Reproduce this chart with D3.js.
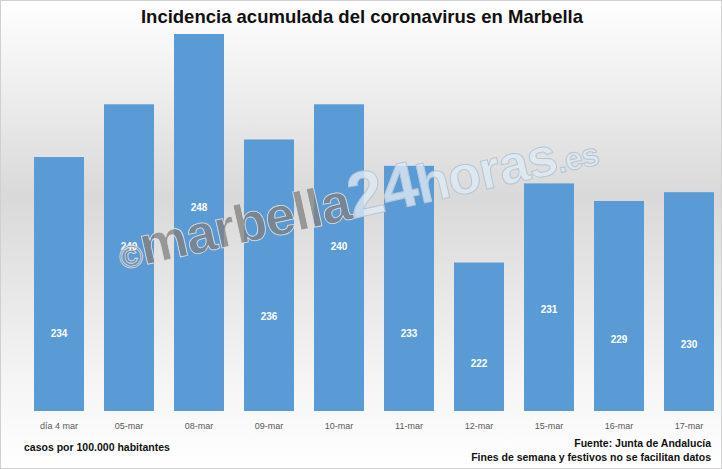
<!DOCTYPE html>
<html><head><meta charset="utf-8">
<script src="https://cdn.jsdelivr.net/npm/d3@7"></script>
<style>body{margin:0;background:#fff}text{font-family:"Liberation Sans",Arial,sans-serif}</style>
</head><body><svg id="chart" width="722" height="469"></svg>
<script>
// data
const dates = ["día 4 mar","05-mar","08-mar","09-mar","10-mar","11-mar","12-mar","15-mar","16-mar","17-mar"];
const values = [234,240,248,236,240,233,222,231,229,230];
// where the value labels sit inside each bar (in data units)
const labelAt = [214,223.9,228.3,215.9,223.9,214,210.6,216.7,213.3,212.7];

const svg = d3.select("#chart");

// background gradient: white top, gray middle, white bottom
const defs = svg.append("defs");
const grad = defs.append("linearGradient").attr("id","bg").attr("x1",0).attr("x2",0).attr("y1",0).attr("y2",1);
grad.append("stop").attr("offset","0%").attr("stop-color","#ffffff");
grad.append("stop").attr("offset","42%").attr("stop-color","#d9d9d9");
grad.append("stop").attr("offset","80%").attr("stop-color","#f4f4f4");
grad.append("stop").attr("offset","100%").attr("stop-color","#ffffff");
svg.append("rect").attr("x",0).attr("y",0).attr("width",722).attr("height",469).attr("fill","url(#bg)");
svg.append("rect").attr("x",0.5).attr("y",0.5).attr("width",721).attr("height",468).attr("fill","none").attr("stroke","#d0d0d0");

const x = d3.scaleBand().domain(dates).range([24,724]).paddingInner(0.286).paddingOuter(0.143);
const y = d3.scaleLinear().domain([205.1,248]).range([411,34]);

svg.append("text").attr("x",362).attr("y",23).attr("text-anchor","middle")
  .attr("font-size",18.5).attr("font-weight","bold").attr("fill","#111")
  .text("Incidencia acumulada del coronavirus en Marbella");

svg.selectAll(".bar").data(values).join("rect").attr("class","bar")
  .attr("x",(d,i)=>x(dates[i])).attr("width",x.bandwidth())
  .attr("y",d=>y(d)).attr("height",d=>y.range()[0]-y(d))
  .attr("fill","#5b9bd5");

svg.selectAll(".lbl").data(values).join("text").attr("class","lbl")
  .attr("x",(d,i)=>x(dates[i])+x.bandwidth()/2).attr("y",(d,i)=>y(labelAt[i])+4)
  .attr("text-anchor","middle").attr("font-size",10).attr("font-weight","bold").attr("fill","#fff")
  .text(d=>d);

const xAxis = svg.append("g").attr("transform","translate(0,411)")
  .call(d3.axisBottom(x).tickSize(0).tickPadding(12));
xAxis.select(".domain").remove();
xAxis.selectAll("text").attr("font-size",9).attr("fill","#595959");

// watermark
const wm = svg.append("text").attr("transform","translate(122,270) rotate(-12.5)")
  .attr("font-size",54).attr("font-weight","bold").attr("font-family","DejaVu Sans, sans-serif")
  .attr("letter-spacing",-1);
const gray = t => t.attr("fill","#7f7f7f").attr("fill-opacity",0.75).attr("stroke","#e0e0e0").attr("stroke-width",0.8);
const pale = t => t.attr("fill","#dfe9f3").attr("fill-opacity",0.8).attr("stroke","#b5c6d6").attr("stroke-width",1);
wm.append("tspan").attr("font-size",32).call(gray).text("©");
wm.append("tspan").call(gray).text("marbella");
wm.append("tspan").attr("font-size",64).call(pale).text("24");
wm.append("tspan").call(pale).text("horas");
wm.append("tspan").attr("font-size",32).call(pale).text(".es");

svg.append("text").attr("x",24).attr("y",451).attr("font-size",10.5).attr("font-weight","bold").attr("fill","#111")
  .text("casos por 100.000 habitantes");
svg.append("text").attr("x",711).attr("y",447).attr("text-anchor","end").attr("font-size",10.5).attr("font-weight","bold").attr("fill","#111")
  .text("Fuente: Junta de Andalucía");
svg.append("text").attr("x",711).attr("y",461).attr("text-anchor","end").attr("font-size",10.5).attr("font-weight","bold").attr("fill","#111")
  .text("Fines de semana y festivos no se facilitan datos");
</script></body></html>
